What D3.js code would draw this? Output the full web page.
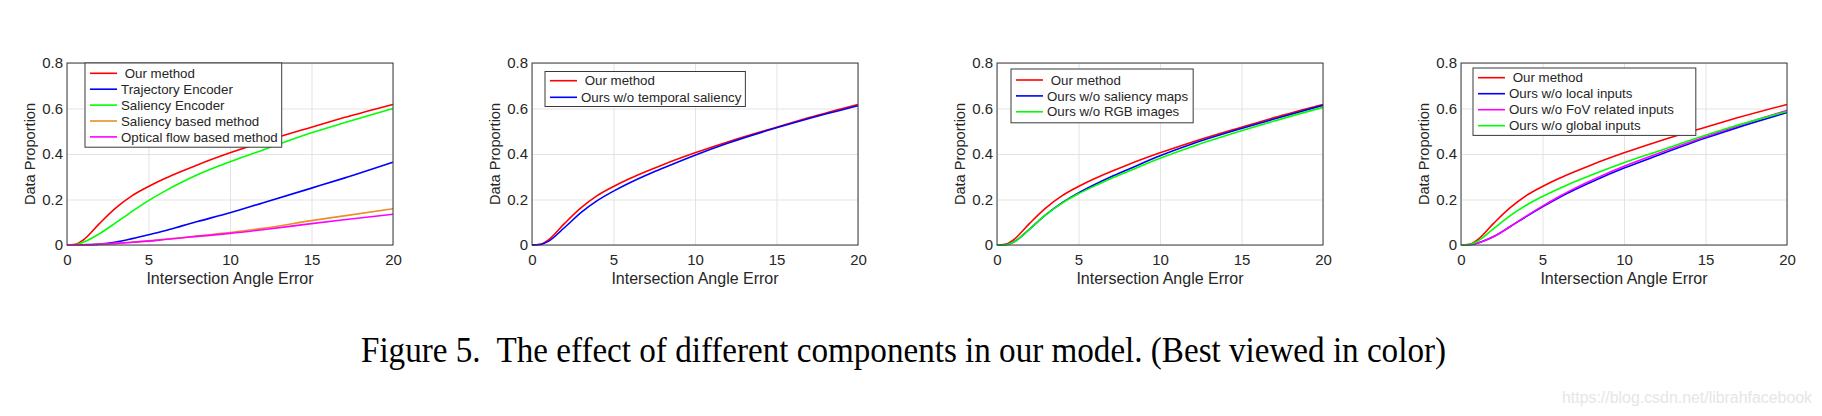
<!DOCTYPE html>
<html>
<head>
<meta charset="utf-8">
<script src="https://cdn.jsdelivr.net/npm/d3@7"></script>
<style>
  body { margin: 0; background: #fff; }
  text { font-family: "Liberation Sans", Arial, Helvetica, sans-serif; fill: #262626; }
</style>
</head>
<body>
<div id="chart"></div>
<script>
// x positions (intersection angle error) where curves were read
const angleErr = [0, 0.5, 1, 2, 3, 4, 5, 6, 7, 8, 10, 12, 15, 17, 20];

// panel 1
const ourMethod   = [0, 0.003, 0.022, 0.095, 0.163, 0.217, 0.257, 0.292, 0.323, 0.352, 0.405, 0.453, 0.518, 0.56, 0.618];
const trajEncoder = [0, 0, 0.001, 0.004, 0.013, 0.028, 0.045, 0.063, 0.083, 0.103, 0.142, 0.185, 0.25, 0.294, 0.364];
const salEncoder  = [0, 0.001, 0.012, 0.05, 0.098, 0.148, 0.195, 0.237, 0.275, 0.309, 0.366, 0.417, 0.493, 0.537, 0.60];
const salBased    = [0, 0, 0, 0.003, 0.007, 0.012, 0.018, 0.025, 0.032, 0.04, 0.055, 0.073, 0.107, 0.128, 0.159];
const opticalFlow = [0, 0, 0, 0.003, 0.007, 0.012, 0.017, 0.024, 0.031, 0.038, 0.051, 0.067, 0.094, 0.111, 0.135];
// panel 2
const woTemporal  = [0, 0.002, 0.016, 0.077, 0.142, 0.195, 0.237, 0.274, 0.307, 0.337, 0.395, 0.447, 0.515, 0.556, 0.612];
// panel 3
const woSalMaps   = [0, 0.001, 0.012, 0.07, 0.133, 0.186, 0.229, 0.266, 0.30, 0.331, 0.392, 0.445, 0.512, 0.554, 0.614];
const woRGB       = [0, 0.001, 0.012, 0.07, 0.133, 0.184, 0.225, 0.26, 0.292, 0.322, 0.381, 0.433, 0.502, 0.545, 0.605];
// panel 4
const woLocal     = [0, 0.001, 0.008, 0.037, 0.08, 0.125, 0.168, 0.208, 0.244, 0.277, 0.338, 0.392, 0.47, 0.517, 0.582];
const woFoV       = [0, 0.001, 0.008, 0.036, 0.08, 0.127, 0.171, 0.212, 0.25, 0.284, 0.346, 0.40, 0.476, 0.524, 0.591];
const woGlobal    = [0, 0.002, 0.016, 0.072, 0.128, 0.175, 0.213, 0.247, 0.279, 0.308, 0.362, 0.41, 0.482, 0.527, 0.587];

const xTicks = [0, 5, 10, 15, 20];
const yTicks = [0, 0.2, 0.4, 0.6, 0.8];
const xTitle = "Intersection Angle Error";
const yTitle = "Data Proportion";
const caption = "Figure 5.  The effect of different components in our model. (Best viewed in color)";
const watermark = "https://blog.csdn.net/librahfacebook";

const RED = "#ff0000", BLUE = "#0000ff", GREEN = "#00ff00", ORANGE = "#e98f26", MAGENTA = "#ff00ff";

const panels = [
  { left: 67, legend: { dx: 18, top: 63, rowTop: 10.3, rowGap: 15.9, padRight: 4 },
    series: [
      { name: " Our method", values: ourMethod, color: RED },
      { name: "Trajectory Encoder", values: trajEncoder, color: BLUE },
      { name: "Saliency Encoder", values: salEncoder, color: GREEN },
      { name: "Saliency based method", values: salBased, color: ORANGE },
      { name: "Optical flow based method", values: opticalFlow, color: MAGENTA }
    ] },
  { left: 532, legend: { dx: 13, top: 71.5, rowTop: 9.2, rowGap: 16.6, padRight: 4 },
    series: [
      { name: " Our method", values: ourMethod, color: RED },
      { name: "Ours w/o temporal saliency", values: woTemporal, color: BLUE }
    ] },
  { left: 997, legend: { dx: 14, top: 69, rowTop: 11, rowGap: 15.9, padRight: 5 },
    series: [
      { name: " Our method", values: ourMethod, color: RED },
      { name: "Ours w/o saliency maps", values: woSalMaps, color: BLUE },
      { name: "Ours w/o RGB images", values: woRGB, color: GREEN }
    ] },
  { left: 1461, legend: { dx: 12, top: 68, rowTop: 9.7, rowGap: 16, padRight: 22 },
    series: [
      { name: " Our method", values: ourMethod, color: RED },
      { name: "Ours w/o local inputs", values: woLocal, color: BLUE },
      { name: "Ours w/o FoV related inputs", values: woFoV, color: MAGENTA },
      { name: "Ours w/o global inputs", values: woGlobal, color: GREEN }
    ] }
];

const W = 1822, H = 416;
const plotTop = 63, width = 326, height = 182;

const svg = d3.select("#chart").append("svg")
    .attr("width", W)
    .attr("height", H);

const x = d3.scaleLinear().domain([0, 20]).range([0, width]);
const y = d3.scaleLinear().domain([0, 0.8]).range([height, 0]);

const line = d3.line()
    .x((d, i) => x(angleErr[i]))
    .y(d => y(d))
    .curve(d3.curveMonotoneX);

panels.forEach(p => {
  const g = svg.append("g").attr("transform", `translate(${p.left},${plotTop})`);

  // grid lines
  g.append("g")
      .attr("transform", `translate(0,${height})`)
      .call(d3.axisBottom(x).tickValues(xTicks).tickSize(-height).tickFormat(""))
      .call(a => a.select(".domain").remove())
      .selectAll("line").attr("stroke", "#e3e3e3");
  g.append("g")
      .call(d3.axisLeft(y).tickValues(yTicks).tickSize(-width).tickFormat(""))
      .call(a => a.select(".domain").remove())
      .selectAll("line").attr("stroke", "#e3e3e3");

  // curves
  g.selectAll(".curve")
    .data(p.series)
    .enter().append("path")
      .attr("class", "curve")
      .attr("d", d => line(d.values))
      .attr("fill", "none")
      .attr("stroke", d => d.color)
      .attr("stroke-width", 1.6);

  // box
  g.append("rect")
      .attr("width", width).attr("height", height)
      .attr("fill", "none").attr("stroke", "#3a3a3a").attr("stroke-width", 1);

  // tick labels
  const xa = g.append("g")
      .attr("transform", `translate(0,${height})`)
      .call(d3.axisBottom(x).tickValues(xTicks).tickSize(0).tickPadding(9).tickFormat(d3.format("d")));
  xa.select(".domain").remove();
  xa.selectAll("text").style("font-size", "15px").style("font-family", "Liberation Sans, Arial, sans-serif").attr("fill", "#262626");

  const ya = g.append("g")
      .call(d3.axisLeft(y).tickValues(yTicks).tickSize(0).tickPadding(4)
        .tickFormat(d => d === 0 ? "0" : d3.format(".1f")(d)));
  ya.select(".domain").remove();
  ya.selectAll("text").style("font-size", "15px").style("font-family", "Liberation Sans, Arial, sans-serif").attr("fill", "#262626");

  // titles
  g.append("text")
      .attr("x", width / 2).attr("y", height + 39)
      .attr("text-anchor", "middle")
      .style("font-size", "16px")
      .text(xTitle);
  g.append("text")
      .attr("transform", `translate(-32,${height / 2}) rotate(-90)`)
      .attr("text-anchor", "middle")
      .style("font-size", "14.6px")
      .text(yTitle);

  // legend
  const L = p.legend;
  const lg = g.append("g").attr("transform", `translate(${L.dx},${L.top - plotTop})`);
  const box = lg.append("rect")
      .attr("fill", "#fff").attr("stroke", "#3a3a3a").attr("stroke-width", 1);
  let maxW = 0;
  p.series.forEach((s, i) => {
    const ry = L.rowTop + i * L.rowGap;
    lg.append("line")
        .attr("x1", 5).attr("x2", 32).attr("y1", ry).attr("y2", ry)
        .attr("stroke", s.color).attr("stroke-width", 1.6);
    const t = lg.append("text")
        .attr("x", 36).attr("y", ry).attr("dy", "0.35em")
        .style("font-size", "13.3px")
        .style("white-space", "pre")
        .text(s.name);
    maxW = Math.max(maxW, t.node().getComputedTextLength());
  });
  box.attr("width", 36 + maxW + L.padRight)
     .attr("height", L.rowTop * 2 + (p.series.length - 1) * L.rowGap);
});

// caption (glyphs a little taller than plain Times in the reference)
svg.append("text")
    .attr("transform", "translate(361,362) scale(1,1.14)")
    .attr("textLength", 1085).attr("lengthAdjust", "spacingAndGlyphs")
    .style("font-family", "Liberation Serif, Times New Roman, serif")
    .style("font-size", "32px")
    .style("white-space", "pre")
    .style("fill", "#000")
    .text(caption);

// watermark
svg.append("text")
    .attr("x", 1562).attr("y", 403)
    .attr("textLength", 250).attr("lengthAdjust", "spacingAndGlyphs")
    .style("font-size", "16px")
    .style("fill", "#e6e6e6")
    .text(watermark);
</script>
</body>
</html>
